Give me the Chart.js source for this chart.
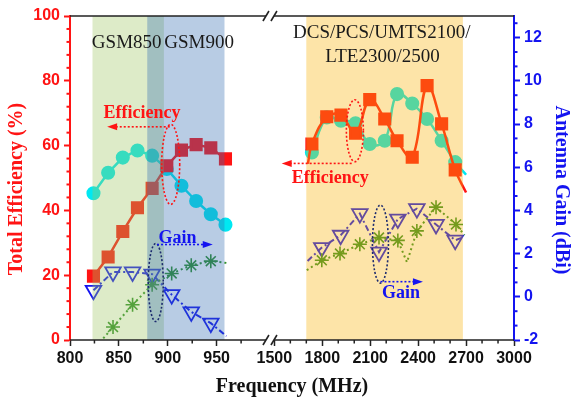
<!DOCTYPE html>
<html>
<head>
<meta charset="utf-8">
<script src="https://cdn.jsdelivr.net/npm/chart.js@4.4.1/dist/chart.umd.min.js"></script>
<style>
  html, body { margin: 0; padding: 0; background: #fff; }
</style>
</head>
<body>
<canvas id="c" width="573" height="401"></canvas>
<script>
// frequency axis is broken: 800-1000 MHz, then 1500-3000 MHz
const xTickFreq = [800, 850, 900, 950, 1500, 1800, 2100, 2400, 2700, 3000];
const xMinorFreq = [825, 875, 925, 975, 1600, 1700, 1900, 2000, 2200, 2300, 2500, 2600, 2800, 2900];
const effTicks = [0, 20, 40, 60, 80, 100];
const gainTicks = [-2, 0, 2, 4, 6, 8, 10, 12];

// shaded bands
const bandLabels = ["GSM850", "GSM900", "DCS/PCS/UMTS2100/"];
const bandStart = [823, 879, 1700];
const bandEnd = [896, 958, 2680];

// low band curves
const lowFreq = [824, 839, 854, 869, 884, 899, 914, 929, 944, 959];
const effSquaresLow = [19.7, 25.6, 33.5, 40.8, 46.8, 53.8, 58.6, 60.3, 59.3, 55.9];
const effCirclesLow = [45.3, 51.6, 56.3, 58.5, 56.9, 52.8, 47.6, 42.9, 38.8, 35.6];
const gainLowFreq = [824, 844, 864, 884, 904, 924, 944, 960];
const gainTrianglesLow = [0.3, 1.15, 1.15, 1.05, 0.1, -0.7, -1.22, -1.82];
const gainStarsLow = [-2.45, -1.4, -0.37, 0.56, 1.08, 1.46, 1.65, 1.57];

// high band curves
const highSquareFreq = [1710, 1735, 1828, 1917, 2008, 2097, 2191, 2268, 2363, 2456, 2547, 2632, 2700];
const effSquaresHigh = [54.4, 60.5, 68.9, 69.4, 63.8, 74.2, 68.2, 61.5, 56.4, 78.5, 66.7, 52.5, 45.5];
const highCircleFreq = [1735, 1828, 1917, 2008, 2097, 2191, 2268, 2363, 2456, 2547, 2632, 2700];
const effCirclesHigh = [57.9, 68.7, 67.7, 66.9, 60.5, 61.5, 75.9, 73.0, 68.2, 61.5, 54.9, 51.0];
const highTriFreq = [1708, 1797, 1915, 2035, 2155, 2273, 2392, 2512, 2632, 2688];
const gainTrianglesHigh = [1.66, 2.28, 2.85, 3.85, 2.07, 3.6, 4.08, 3.35, 2.62, 2.77];
const highStarFreq = [1703, 1797, 1911, 2035, 2155, 2273, 2330, 2392, 2512, 2637, 2690];
const gainStarsHigh = [1.23, 1.69, 2.0, 2.43, 2.74, 2.61, 1.6, 3.05, 4.15, 3.35, 2.85];

// samples that only carry the line, no symbol
const lineOnlyFreq = [960, 1703, 1708, 1710, 2330, 2688, 2690, 2700];

const RED = '#ff1414', CYAN = '#00e8f2', BLUE = '#1414f0', GREEN = '#2f8f2a';
const SERIF = "'Liberation Serif', 'Times New Roman', serif";
const SANS = "'Liberation Sans', Arial, sans-serif";

// squeeze 1500-3000 next to 800-1000
function mapX(f) {
  return f <= 1000 ? f : 1009 + (f - 1500) / 6.12;
}

function pts(freqs, vals) {
  return freqs.map((f, i) => ({x: mapX(f), y: vals[i], f: f}));
}

function series(freqs, vals, axis, color, shape, size, extra) {
  return Object.assign({
    data: pts(freqs, vals),
    yAxisID: axis,
    borderColor: color,
    backgroundColor: color,
    pointBorderColor: color,
    pointBackgroundColor: color,
    pointStyle: shape,
    pointRadius: ctx => lineOnlyFreq.includes(ctx.raw && ctx.raw.f) ? 0 : size,
    borderWidth: 2.5,
    tension: 0
  }, extra || {});
}

const triStyle = {pointBackgroundColor: 'rgba(0,0,0,0)', pointRotation: 180, pointBorderWidth: 1.8, borderWidth: 2, borderDash: [6, 3, 2, 3]};
const starStyle = {pointBorderWidth: 1.6, borderWidth: 2, borderDash: [2, 3]};

function line(ctx, x0, y0, x1, y1) {
  ctx.beginPath(); ctx.moveTo(x0, y0); ctx.lineTo(x1, y1); ctx.stroke();
}

function arrow(ctx, x0, y0, x1, color) {
  const dir = Math.sign(x1 - x0);
  ctx.strokeStyle = color; ctx.fillStyle = color;
  ctx.lineWidth = 1.6; ctx.setLineDash([2, 2]);
  line(ctx, x0, y0, x1 - dir * 8, y0);
  ctx.setLineDash([]);
  ctx.beginPath();
  ctx.moveTo(x1, y0); ctx.lineTo(x1 - dir * 10, y0 - 3.5); ctx.lineTo(x1 - dir * 10, y0 + 3.5);
  ctx.closePath(); ctx.fill();
}

function ellipse(ctx, cx, cy, rx, ry, color) {
  ctx.strokeStyle = color; ctx.lineWidth = 1.6; ctx.setLineDash([2, 2]);
  ctx.beginPath(); ctx.ellipse(cx, cy, rx, ry, 0, 0, Math.PI * 2); ctx.stroke();
  ctx.setLineDash([]);
}

function text(ctx, s, x, y, font, color, rot) {
  ctx.save();
  ctx.translate(x, y);
  if (rot) ctx.rotate(rot);
  ctx.font = font; ctx.fillStyle = color;
  ctx.textAlign = 'center'; ctx.textBaseline = 'middle';
  ctx.fillText(s, 0, 0);
  ctx.restore();
}

const decor = {
  id: 'decor',
  afterDatasetsDraw(chart) {
    // bands sit over the curves, semi transparent
    const {ctx, chartArea: a, scales: {x}} = chart;
    const colors = ['#9ec662', '#346db2', '#f9b206'];
    ctx.save();
    ctx.globalAlpha = 0.35;
    bandStart.forEach((b, i) => {
      const x0 = x.getPixelForValue(mapX(b)), x1 = x.getPixelForValue(mapX(bandEnd[i]));
      ctx.fillStyle = colors[i];
      ctx.fillRect(x0, a.top, x1 - x0, a.bottom - a.top);
    });
    ctx.restore();
  },
  afterDraw(chart) {
    const {ctx, chartArea: a, scales: {x, y, y1}} = chart;
    const px = f => x.getPixelForValue(mapX(f));
    const ey = v => y.getPixelForValue(v);
    const gy = v => y1.getPixelForValue(v);
    ctx.save();

    // top frame and bottom axis, with the break
    const brk = (x.getPixelForValue(1000) + px(1500)) / 2;
    ctx.strokeStyle = '#222'; ctx.lineWidth = 1.6;
    [a.top, a.bottom].forEach(yy => {
      line(ctx, a.left, yy, brk - 4, yy);
      line(ctx, brk + 4, yy, a.right, yy);
      line(ctx, brk - 7, yy + 5, brk - 1, yy - 5);
      line(ctx, brk + 1, yy + 5, brk + 7, yy - 5);
    });

    // minor ticks
    ctx.lineWidth = 1.5;
    xMinorFreq.forEach(f => line(ctx, px(f), a.bottom, px(f), a.bottom + 3.5));
    ctx.strokeStyle = RED; ctx.lineWidth = 2;
    for (let v = 4; v < 100; v += 4) {
      if (v % 20) line(ctx, a.left - 3.5, ey(v), a.left, ey(v));
    }
    ctx.strokeStyle = BLUE;
    for (let v = -2; v < 13; v += 2 / 3) {
      const r = Math.round(v * 3);
      if (r % 6 !== 0) line(ctx, a.right, gy(v), a.right + 3.5, gy(v));
    }

    // band names
    const bandFont = '19px ' + SERIF;
    text(ctx, bandLabels[0], px(858), ey(91.7), bandFont, '#1a1a1a');
    text(ctx, bandLabels[1], px(932), ey(91.7), bandFont, '#1a1a1a');
    text(ctx, bandLabels[2], px(2172), ey(94.6), bandFont, '#1a1a1a');
    text(ctx, 'LTE2300/2500', px(2177), ey(87.3), bandFont, '#1a1a1a');

    // pointers to the axes
    const noteFont = 'bold 18px ' + SERIF;
    ellipse(ctx, px(903), ey(54.2), 9, 40, RED);
    arrow(ctx, px(902), ey(65.8), px(838), RED);
    text(ctx, 'Efficiency', px(873.6), ey(70), noteFont, RED);

    ellipse(ctx, px(2004), ey(64.6), 8.5, 31, RED);
    arrow(ctx, px(1984), ey(54.5), px(1546), RED);
    text(ctx, 'Efficiency', px(1850), ey(50), noteFont, RED);

    ellipse(ctx, px(887.7), gy(0.66), 7.5, 39, '#1c2a6e');
    arrow(ctx, px(889), gy(2.42), px(946), BLUE);
    text(ctx, 'Gain', px(910), gy(2.72), noteFont, BLUE);

    ellipse(ctx, px(2164), gy(2.44), 8, 39, '#1c2a6e');
    arrow(ctx, px(2164), gy(0.7), px(2430), BLUE);
    text(ctx, 'Gain', px(2292), gy(0.18), noteFont, BLUE);

    // axis titles
    const titleFont = 'bold 20px ' + SERIF;
    text(ctx, 'Total Efficiency (%)', 17, 189, titleFont, RED, -Math.PI / 2);
    text(ctx, 'Antenna Gain (dBi)', 561, 190, titleFont, BLUE, Math.PI / 2);
    text(ctx, 'Frequency (MHz)', 292, 387, titleFont, '#111');
    ctx.restore();
  }
};

const tickFont = {family: SANS, size: 16, weight: 'bold'};

new Chart(document.getElementById('c'), {
  type: 'line',
  data: {
    datasets: [
      series(lowFreq, effSquaresLow, 'y', RED, 'rect', 7.5),
      series(lowFreq, effCirclesLow, 'y', CYAN, 'circle', 5.8),
      series(gainLowFreq, gainStarsLow, 'y1', GREEN, 'star', 7, starStyle),
      series(gainLowFreq, gainTrianglesLow, 'y1', BLUE, 'triangle', 9, triStyle),
      series(highSquareFreq, effSquaresHigh, 'y', RED, 'rect', 7.5, {tension: 0.4}),
      series(highCircleFreq, effCirclesHigh, 'y', CYAN, 'circle', 5.8, {tension: 0.4}),
      series(highStarFreq, gainStarsHigh, 'y1', GREEN, 'star', 7, starStyle),
      series(highTriFreq, gainTrianglesHigh, 'y1', BLUE, 'triangle', 9, triStyle)
    ]
  },
  options: {
    responsive: false,
    animation: false,
    events: [],
    layout: {padding: {top: 16, left: 0, right: 0, bottom: 0}},
    plugins: {legend: {display: false}, tooltip: {enabled: false}},
    scales: {
      x: {
        type: 'linear',
        min: 800,
        max: mapX(3000),
        afterBuildTicks: s => { s.ticks = xTickFreq.map(f => ({value: mapX(f)})); },
        afterFit: s => { s.height = 61; },
        ticks: {callback: (v, i) => xTickFreq[i], color: '#111', font: tickFont, padding: 3, maxRotation: 0, autoSkip: false},
        grid: {drawOnChartArea: false, tickLength: 6, color: '#222', tickWidth: 1.5},
        border: {display: false}
      },
      y: {
        position: 'left',
        min: 0,
        max: 100,
        afterBuildTicks: s => { s.ticks = effTicks.map(v => ({value: v})); },
        afterFit: s => { s.width = 70; },
        ticks: {color: RED, font: tickFont, padding: 4},
        grid: {drawOnChartArea: false, tickLength: 6, color: RED, tickWidth: 2},
        border: {color: RED, width: 2}
      },
      y1: {
        position: 'right',
        min: -2,
        max: 13,
        afterBuildTicks: s => { s.ticks = gainTicks.map(v => ({value: v})); },
        afterFit: s => { s.width = 59; },
        ticks: {color: BLUE, font: tickFont, padding: 4},
        grid: {drawOnChartArea: false, tickLength: 6, color: BLUE, tickWidth: 2},
        border: {color: BLUE, width: 2}
      }
    }
  },
  plugins: [decor]
});
</script>
</body>
</html>
